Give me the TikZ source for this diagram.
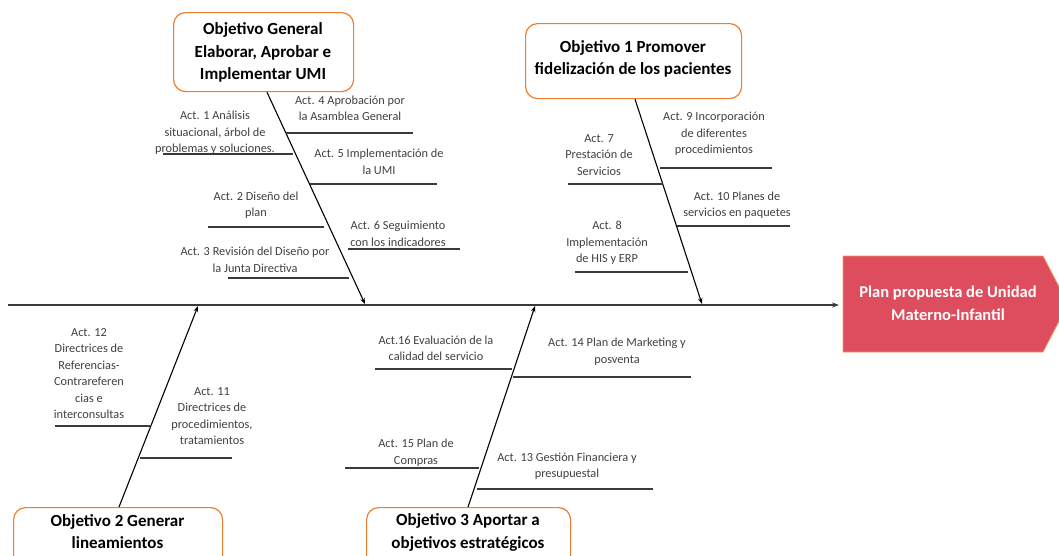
\documentclass[tikz,border=0pt]{standalone}
\usepackage{fontspec}
\setmainfont{Carlito}
\usetikzlibrary{arrows.meta,calc}
\definecolor{objorange}{HTML}{ED7D31}
\definecolor{headred}{HTML}{DE4D5E}
\definecolor{acttext}{HTML}{404040}
\definecolor{spinecol}{HTML}{3A3A3A}
\begin{document}
\begin{tikzpicture}[x=1pt,y=-1pt,
  objbox/.style={draw=objorange,line width=1.2pt,rounded corners=12pt,fill=white,inner sep=0pt},
  objtext/.style={font=\fontsize{17}{22.5}\selectfont\bfseries,align=center,text=black,inner sep=0pt},
  acttxt/.style={font=\fontsize{12.3}{16.5}\selectfont,align=center,text=acttext,inner sep=0pt},
  actline/.style={draw=spinecol,line width=1.1pt},
  bone/.style={draw=black,line width=1.1pt,-{Stealth[length=6pt,width=4.5pt]}},
  spine/.style={draw=spinecol,line width=1.5pt,-{Stealth[length=7pt,width=5pt]}},
  headtxt/.style={font=\fontsize{16.5}{23}\selectfont\bfseries,align=center,text=white,inner sep=0pt}]
\useasboundingbox (0,0) rectangle (1059,555);
\clip (0,0) rectangle (1059,555);

% head
\draw[fill=headred,draw=objorange!80!white,line width=0.8pt] (843,256) -- (1043,256) -- (1068,304) -- (1043,352) -- (843,352) -- cycle;
\node[headtxt] (head) at (948,303.5) {Plan propuesta de Unidad\\Materno-Infantil};
\coordinate (headw) at (843,305);

% spine
\coordinate (s0) at (8,305);
\draw[spine] (s0) -- ($(headw)+(-4,0)$);

% objective boxes
\node[objbox,minimum width=180pt,minimum height=79pt,anchor=north west] (og) at (173,12) {};
\node[objtext] at (263,52.5) {Objetivo General\\Elaborar, Aprobar e\\Implementar UMI};
\node[objbox,minimum width=216pt,minimum height=75pt,anchor=north west] (o1) at (525,23) {};
\node[objtext] at (633,59) {Objetivo 1 Promover\\fidelizaci\'on de los pacientes};
\node[objbox,minimum width=209pt,minimum height=70pt,anchor=north west] (o2) at (13,507) {};
\node[objtext] at (117.5,531.5) {Objetivo 2 Generar\\lineamientos};
\node[objbox,minimum width=204pt,minimum height=70pt,anchor=north west] (o3) at (366,507) {};
\node[objtext] at (468,532.5) {Objetivo 3 Aportar a\\objetivos estrat\'egicos};

% bone end points on spine
\coordinate (t0) at (365,304);
\coordinate (t1) at (702,304);
\coordinate (t2) at (198,306);
\coordinate (t3) at (535,306);

% bones
\draw[bone] (og.south -| 267,0) -- (t0);
\draw[bone] (o1.south -| 635,0) -- (t1);
\draw[bone] (o2.north -| 119,0) -- (t2);
\draw[bone] (o3.north -| 468,0) -- (t3);

% objective general activities
\node[acttxt] (a1) at (215,133) {Act. 1 An\'alisis\\situacional, \'arbol de\\problemas y soluciones.};
\draw[actline] (163,154) -- (293,154);
\node[acttxt] (a4) at (350,108.5) {Act. 4 Aprobaci\'on por\\la Asamblea General};
\draw[actline] (286,133) -- (413,133);
\node[acttxt] (a5) at (379,162) {Act. 5 Implementaci\'on de\\la UMI};
\draw[actline] (310,184) -- (437,184);
\node[acttxt] (a2) at (256,205) {Act. 2 Dise\~no del\\plan};
\draw[actline] (208,227) -- (324,227);
\node[acttxt] (a6) at (398,234) {Act. 6 Seguimiento\\con los indicadores};
\draw[actline] (348,249) -- (460,249);
\node[acttxt] (a3) at (255,260) {Act. 3 Revisi\'on del Dise\~no por\\la Junta Directiva};
\draw[actline] (228,278) -- (349,278);

% objective 1 activities
\node[acttxt] (a9) at (714,134) {Act. 9 Incorporaci\'on\\de diferentes\\procedimientos};
\draw[actline] (660,168) -- (772,168);
\node[acttxt] (a7) at (599,155) {Act. 7\\Prestaci\'on de\\Servicios};
\draw[actline] (568,184) -- (663,184);
\node[acttxt] (a10) at (737,205) {Act. 10 Planes de\\servicios en paquetes};
\draw[actline] (677,226) -- (790,226);
\node[acttxt] (a8) at (607,243) {Act. 8\\Implementaci\'on\\de HIS y ERP};
\draw[actline] (575,272) -- (688,272);

% objective 2 activities
\node[acttxt] (a12) at (89,373.5) {Act. 12\\Directrices de\\Referencias-\\Contrareferen\\cias e\\interconsultas};
\draw[actline] (55,426) -- (150,426);
\node[acttxt] (a11) at (212,416) {Act. 11\\Directrices de\\procedimientos,\\tratamientos};
\draw[actline] (140,458) -- (232,458);

% objective 3 activities
\node[acttxt] (a16) at (436,348.5) {Act.16 Evaluaci\'on de la\\calidad del servicio};
\draw[actline] (375,369) -- (512,369);
\node[acttxt] (a14) at (617,351.5) {Act. 14 Plan de Marketing y\\posventa};
\draw[actline] (513,377) -- (691,377);
\node[acttxt] (a15) at (416,452.5) {Act. 15 Plan de\\Compras};
\draw[actline] (345,468) -- (479,468);
\node[acttxt] (a13) at (567,466) {Act. 13 Gesti\'on Financiera y\\presupuestal};
\draw[actline] (477,489) -- (653,489);
\end{tikzpicture}
\end{document}
